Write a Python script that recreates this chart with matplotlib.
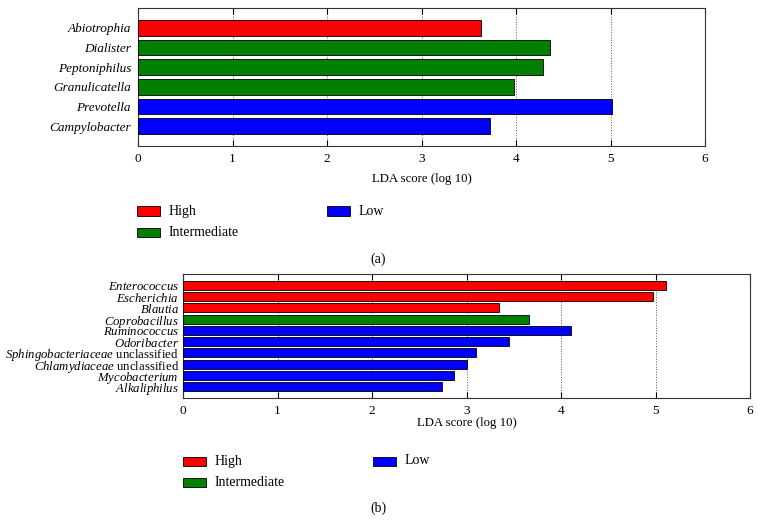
import matplotlib
matplotlib.use("Agg")
import matplotlib.pyplot as plt
from matplotlib.patches import Rectangle

plt.rcParams["font.family"] = "Liberation Serif"
plt.rcParams["mathtext.fontset"] = "custom"
plt.rcParams["mathtext.rm"] = "Liberation Serif"
plt.rcParams["mathtext.it"] = "Liberation Serif:italic"

# Panel (a) data, top to bottom
taxa_a = ["Abiotrophia", "Dialister", "Peptoniphilus", "Granulicatella",
          "Prevotella", "Campylobacter"]
lda_a = [3.63, 4.36, 4.29, 3.98, 5.02, 3.72]
group_a = ["High", "Intermediate", "Intermediate", "Intermediate", "Low", "Low"]

# Panel (b) data, top to bottom
taxa_b = [r"$\mathit{Enterococcus}$", r"$\mathit{Escherichia}$", r"$\mathit{Blautia}$",
          r"$\mathit{Coprobacillus}$", r"$\mathit{Ruminococcus}$", r"$\mathit{Odoribacter}$",
          r"$\mathit{Sphingobacteriaceae}$ unclassified",
          r"$\mathit{Chlamydiaceae}$ unclassified",
          r"$\mathit{Mycobacterium}$", r"$\mathit{Alkaliphilus}$"]
lda_b = [5.11, 4.97, 3.34, 3.66, 4.11, 3.45, 3.10, 3.00, 2.87, 2.74]
group_b = ["High", "High", "High", "Intermediate", "Low", "Low", "Low", "Low", "Low", "Low"]

colors = {"High": "#ff0000", "Intermediate": "#007f00", "Low": "#0000ff"}
xticks = [0, 1, 2, 3, 4, 5, 6]

W, H = 762, 522
fig = plt.figure(figsize=(W / 100, H / 100), dpi=100)


def px_axes(left, top, right, bottom):
    return fig.add_axes([left / W, 1 - bottom / H, (right - left) / W, (bottom - top) / H])


def draw_panel(ax, taxa, values, groups, label_italic, label_size, label_pad):
    n = len(taxa)
    ypos = list(range(n - 1, -1, -1))
    ax.barh(ypos, values, height=0.8, color=[colors[g] for g in groups],
            edgecolor="black", linewidth=0.6, zorder=3)
    ax.set_ylim(-1, n)
    ax.set_xlim(0, 6)
    ax.set_xticks(xticks)
    ax.set_yticks(ypos)
    ax.set_yticklabels(taxa, style="italic" if label_italic else "normal", fontsize=label_size)
    ax.tick_params(axis="y", length=0, pad=label_pad)
    ax.tick_params(axis="x", direction="in", top=True, length=4, labelsize=9.5, pad=5)
    ax.grid(axis="x", linestyle=":", color="#555555", linewidth=0.7, zorder=0)
    ax.set_axisbelow(True)
    for s in ax.spines.values():
        s.set_color("#333333")
        s.set_linewidth(0.8)


def draw_legend(x0, y0, tag_x, tag_y, tag):
    # x0, y0: pixel position of first legend patch (left, centre)
    entries = [("High", x0, y0), ("Intermediate", x0, y0 + 21.5), ("Low", x0 + 190, y0)]
    for name, x, y in entries:
        fig.add_artist(Rectangle((x / W, 1 - (y + 4.5) / H), 23 / W, 9 / H,
                                 transform=fig.transFigure, facecolor=colors[name],
                                 edgecolor="black", linewidth=0.6))
        fig.text((x + 32) / W, 1 - y / H, name, fontsize=10, va="center", ha="left")
    fig.text(tag_x / W, 1 - tag_y / H, tag, fontsize=10, ha="center", va="center")


ax_a = px_axes(138, 8, 705, 146)
draw_panel(ax_a, taxa_a, lda_a, group_a, True, 9.5, 5)
ax_a.set_xlabel("LDA score (log 10)", fontsize=9.2, labelpad=5.5)
draw_legend(137, 211, 378, 259, "(a)")

ax_b = px_axes(183, 274, 750, 398)
draw_panel(ax_b, taxa_b, lda_b, group_b, False, 9.2, 3)
ax_b.set_xlabel("LDA score (log 10)", fontsize=9.2, labelpad=0)
draw_legend(183, 461, 378, 508, "(b)")

fig.savefig("out.png", dpi=100)
plt.close(fig)
